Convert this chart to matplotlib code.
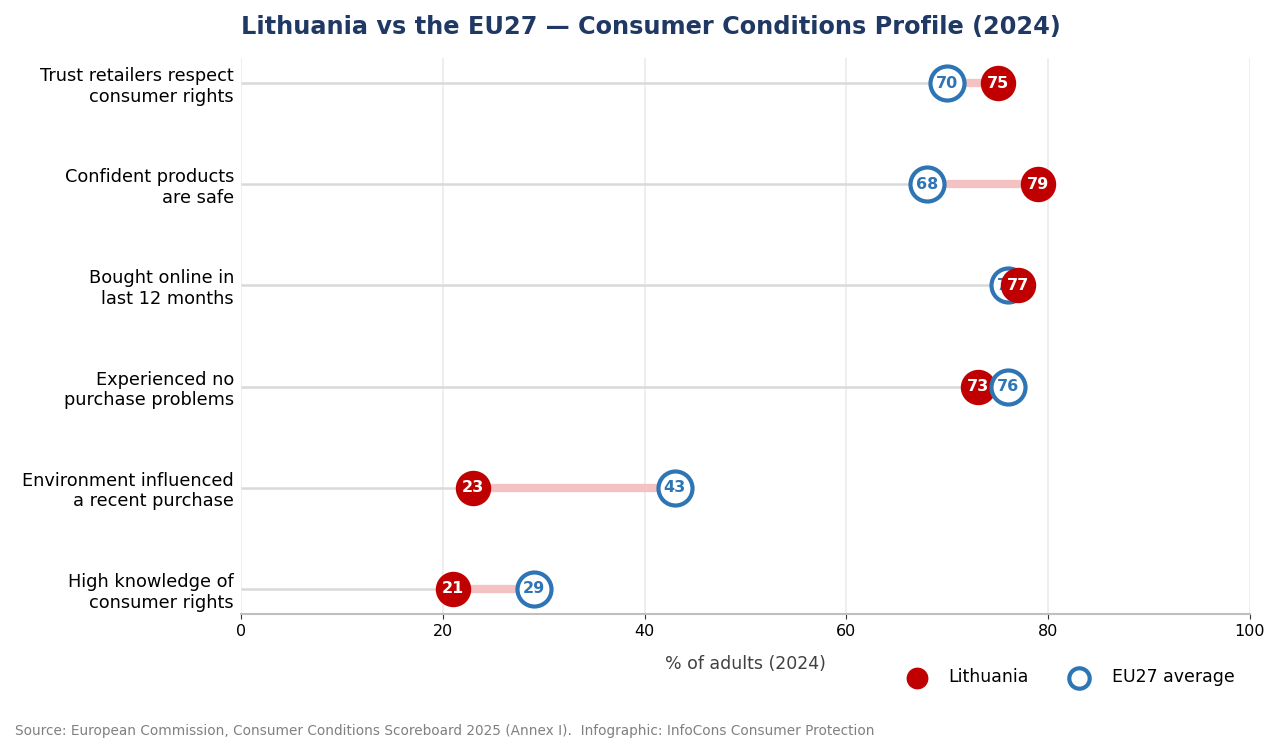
import numpy as np
import matplotlib.pyplot as plt

categories = ["Trust retailers respect\nconsumer rights",
              "Confident products\nare safe",
              "Bought online in\nlast 12 months",
              "Experienced no\npurchase problems",
              "Environment influenced\na recent purchase",
              "High knowledge of\nconsumer rights"]
lithuania = [75, 79, 77, 73, 23, 21]
eu27 = [70, 68, 76, 76, 43, 29]

RED = '#c00000'
BLUE = '#2e75b6'

fig = plt.figure(figsize=(12.82, 7.53), dpi=100)
ax = fig.add_axes([241/1282, 1 - 614/753, (1250-241)/1282, (614-58)/753])

n = len(categories)
ypos = np.arange(n)[::-1]


def draw_lt(x, y, z):
    ax.scatter([x], [y], s=600, color=RED, zorder=z)
    ax.text(x, y, f'{x}', color='white', ha='center', va='center', fontsize=11.5,
            fontweight='bold', zorder=z + 0.5)


def draw_eu(x, y, z):
    ax.scatter([x], [y], s=600, facecolor='white', edgecolor=BLUE, linewidth=3, zorder=z)
    ax.text(x, y, f'{x}', color=BLUE, ha='center', va='center', fontsize=11.5,
            fontweight='bold', zorder=z + 0.5)


for y, lt, eu in zip(ypos, lithuania, eu27):
    lo, hi = min(lt, eu), max(lt, eu)
    ax.plot([0, lo], [y, y], color='#d9d9d9', lw=1.8, zorder=1, solid_capstyle='butt')
    ax.plot([lo, hi], [y, y], color='#f4c2c2', lw=6, zorder=2, solid_capstyle='butt')
    if lt <= eu:
        draw_lt(lt, y, 3)
        draw_eu(eu, y, 4)
    else:
        draw_eu(eu, y, 3)
        draw_lt(lt, y, 4)

# legend handles
ax.scatter([], [], s=600, color=RED, label='Lithuania')
ax.scatter([], [], s=600, facecolor='white', edgecolor=BLUE, linewidth=3, label='EU27 average')

ax.set_xlim(0, 100)
ax.set_ylim(-0.25, n - 1 + 0.25)
ax.set_yticks(ypos)
ax.set_yticklabels(categories, fontsize=12.75)
ax.tick_params(axis='y', length=0, pad=5)
ax.set_xticks([0, 20, 40, 60, 80, 100])
ax.tick_params(axis='x', labelsize=11.5, color='#333333')
ax.grid(axis='x', color='#ebebeb', lw=1.2)
ax.set_axisbelow(True)
for s in ['left', 'right', 'top']:
    ax.spines[s].set_visible(False)
ax.spines['bottom'].set_color('#bfbfbf')
ax.spines['bottom'].set_linewidth(1.5)
ax.set_xlabel('% of adults (2024)', fontsize=12.5, color='#404040', labelpad=12)

fig.suptitle('Lithuania vs the EU27 \u2014 Consumer Conditions Profile (2024)',
             fontsize=17.25, fontweight='bold', color='#1f3864', x=0.508, y=0.98)

fig.legend(loc='lower right', bbox_to_anchor=(0.975, 0.068), ncol=2, frameon=False,
           fontsize=12.5, markerscale=0.6, columnspacing=1.9, handletextpad=0.85)

fig.text(15/1282, 1 - 731/753, 'Source: European Commission, Consumer Conditions Scoreboard 2025 (Annex I).  '
         'Infographic: InfoCons Consumer Protection', fontsize=9.8, color='#808080', va='center')

fig.savefig('out.png', dpi=100)
